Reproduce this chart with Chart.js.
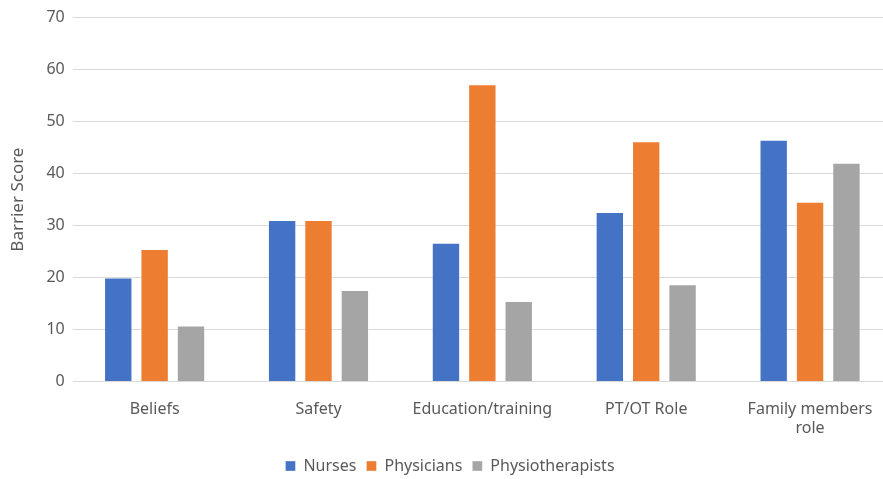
<!DOCTYPE html>
<html>
<head>
<meta charset="utf-8">
<script src="https://cdn.jsdelivr.net/npm/chart.js@4/dist/chart.umd.min.js"></script>
<style>
  html, body { margin: 0; padding: 0; background: #fff; overflow: hidden; }
  #wrap { width: 892px; height: 484px; position: relative; }
</style>
</head>
<body>
<div id="wrap"><canvas id="chart"></canvas></div>
<script>
'use strict';

// ── DATA ───────────────────────────────────────────────────
const CATEGORIES = ['Beliefs', 'Safety', 'Education/training', 'PT/OT Role', ['Family members', 'role']];
const NURSES = [20.0, 31.1, 26.7, 32.6, 46.5];
const PHYSICIANS = [25.5, 31.1, 57.2, 46.2, 34.6];
const PHYSIOS = [10.8, 17.6, 15.5, 18.7, 42.1];
const Y_TICKS = [0, 10, 20, 30, 40, 50, 60, 70];

const FONT = "'Liberation Sans Narrow', 'Noto Sans', sans-serif";
const TEXT = '#595959';

const bar = (label, data, color) => ({
    label, data,
    backgroundColor: color,
    borderColor: 'rgba(255,255,255,0.35)',
    borderWidth: 1,
    categoryPercentage: 0.666,
    barPercentage: 0.78
});

// ── CHART ──────────────────────────────────────────────────
new Chart(document.getElementById('chart'), {
    type: 'bar',
    data: {
        labels: CATEGORIES,
        datasets: [
            bar('Nurses', NURSES, '#4472C4'),
            bar('Physicians', PHYSICIANS, '#ED7D31'),
            bar('Physiotherapists', PHYSIOS, '#A5A5A5')
        ]
    },
    options: {
        responsive: true,
        maintainAspectRatio: false,
        animation: false,
        layout: { padding: { top: 8, left: 8, right: 0, bottom: 0 } },
        plugins: {
            tooltip: { enabled: false },
            legend: {
                position: 'bottom',
                labels: {
                    font: { family: FONT, size: 16 },
                    color: TEXT,
                    boxWidth: 10,
                    boxHeight: 10,
                    padding: 10
                }
            }
        },
        scales: {
            x: {
                grid: { display: false },
                border: { display: false },
                ticks: {
                    font: { family: FONT, size: 16 },
                    color: TEXT,
                    maxRotation: 0,
                    padding: 10
                }
            },
            y: {
                min: 0,
                max: 70,
                afterBuildTicks: axis => { axis.ticks = Y_TICKS.map(v => ({ value: v })); },
                grid: { color: '#d9d9d9', lineWidth: 1, drawTicks: false },
                border: { display: false },
                ticks: {
                    font: { family: FONT, size: 16 },
                    color: TEXT,
                    padding: 8
                },
                title: {
                    display: true,
                    text: 'Barrier Score',
                    font: { family: FONT, size: 17 },
                    color: TEXT,
                    padding: { top: 0, bottom: 10 }
                }
            }
        }
    }
});
</script>
</body>
</html>
